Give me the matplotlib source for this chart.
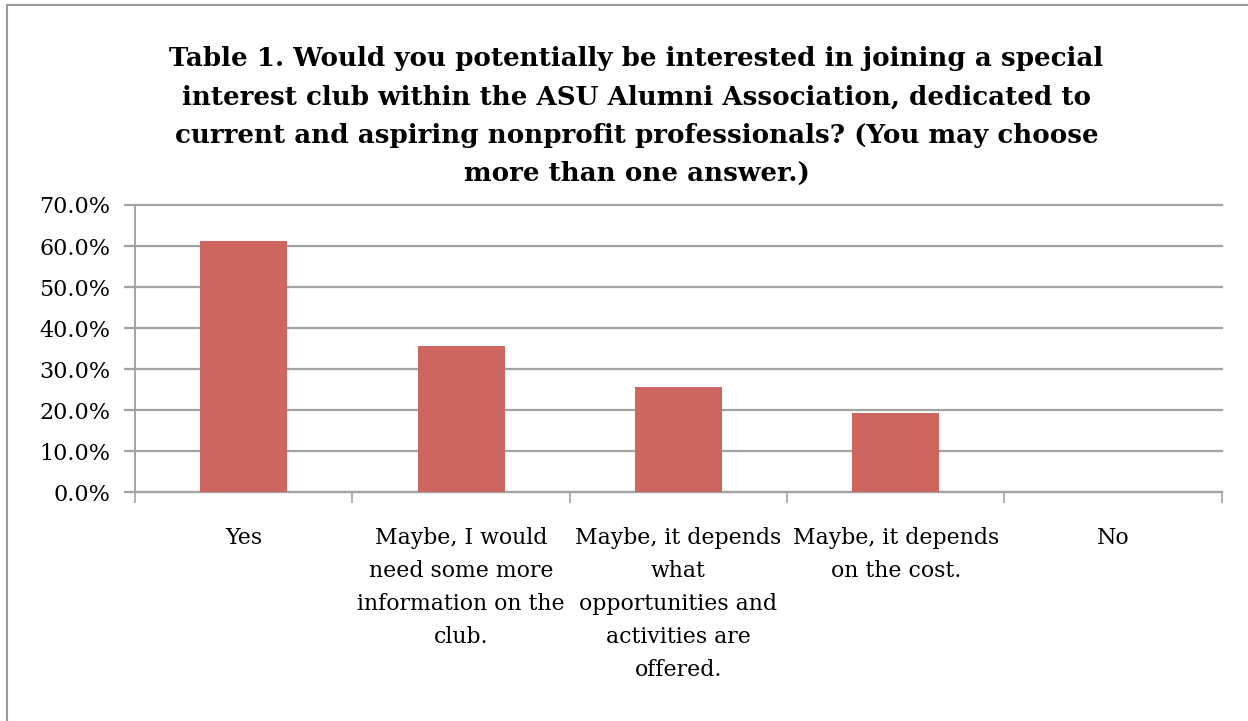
import numpy as np
import matplotlib.pyplot as plt
from matplotlib.ticker import FuncFormatter, FixedLocator

# survey answers and share of respondents
categories = [
    "Yes",
    "Maybe, I would\nneed some more\ninformation on the\nclub.",
    "Maybe, it depends\nwhat\nopportunities and\nactivities are\noffered.",
    "Maybe, it depends\non the cost.",
    "No",
]
shares = [0.613, 0.356, 0.257, 0.193, 0.0]
y_ticks = [0.0, 0.1, 0.2, 0.3, 0.4, 0.5, 0.6, 0.7]

title = ("Table 1. Would you potentially be interested in joining a special\n"
         "interest club within the ASU Alumni Association, dedicated to\n"
         "current and aspiring nonprofit professionals? (You may choose\n"
         "more than one answer.)")

plt.rcParams['font.family'] = ['DejaVu Serif']
grid_col = "#a3a3a3"
bar_col = "#cd6660"

fig = plt.figure(figsize=(12.48, 7.21), dpi=100)
ax = fig.add_axes([0.1082, 0.3172, 0.979 - 0.1082, 0.7157 - 0.3172])

x = np.arange(len(categories))
ax.bar(x, shares, width=0.4, color=bar_col, zorder=3)

ax.set_xlim(-0.5, len(categories) - 0.5)
ax.set_ylim(0, 0.7)
ax.set_yticks(y_ticks)
ax.yaxis.set_major_formatter(FuncFormatter(lambda v, p: f"{v*100:.1f}%"))
ax.grid(axis="y", color=grid_col, linewidth=1.6, zorder=0)
for gl in ax.get_ygridlines():
    gl.set_clip_on(False)

ax.set_xticks(x)
ax.set_xticklabels(categories, fontsize=15.8, linespacing=1.64, va="top")
ax.xaxis.set_minor_locator(FixedLocator(np.arange(-0.5, len(categories), 1.0)))
ax.tick_params(axis="x", which="major", length=0, pad=25)
ax.tick_params(axis="x", which="minor", length=8, width=1.2, color=grid_col, direction="out")
ax.tick_params(axis="y", length=8, width=1.6, color=grid_col, labelsize=16, pad=10)

for side in ["top", "right"]:
    ax.spines[side].set_visible(False)
ax.spines["left"].set_color(grid_col)
ax.spines["left"].set_linewidth(1.4)
ax.spines["bottom"].set_color(grid_col)
ax.spines["bottom"].set_linewidth(1.6)

fig.text(0.51, 0.936, title, ha="center", va="top", fontsize=18.8, fontweight="bold",
         linespacing=1.66)

# outer chart border
fig.patches.append(plt.Rectangle((7 / 1248, -0.01), 1.1, 1 - 5 / 721 + 0.01,
                                 transform=fig.transFigure, fill=False,
                                 edgecolor="#9a9a9a", linewidth=1.5))

fig.savefig("out.png", dpi=100)
